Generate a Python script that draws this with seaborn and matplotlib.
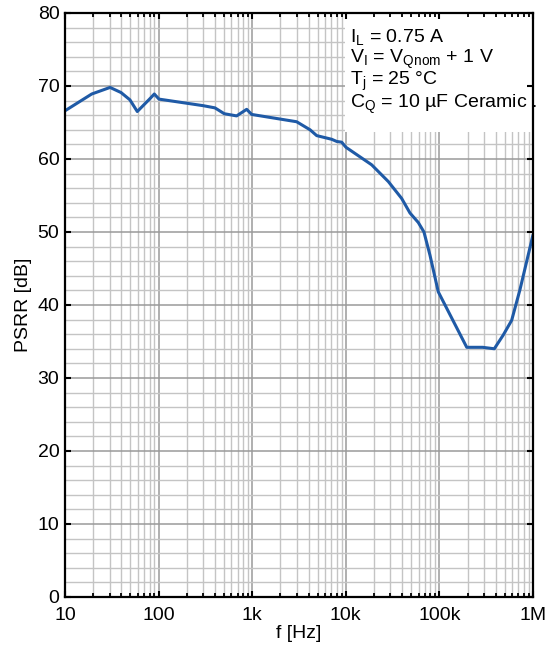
import matplotlib
matplotlib.use("Agg")
import matplotlib.pyplot as plt
from matplotlib.patches import Rectangle
from matplotlib.ticker import LogLocator, MultipleLocator, NullFormatter
import numpy as np
import pandas as pd
import seaborn as sns

sns.set_style("white")
plt.rcParams['font.family'] = ['Liberation Sans', 'DejaVu Sans']
plt.rcParams['mathtext.fontset'] = 'custom'
plt.rcParams['mathtext.rm'] = 'Liberation Sans'
plt.rcParams['text.color'] = 'black'
plt.rcParams['axes.labelcolor'] = 'black'
plt.rcParams['xtick.color'] = 'black'
plt.rcParams['ytick.color'] = 'black'

# PSRR curve
freq = [10, 19.3, 30.3, 39.7, 49.4, 59.2, 80, 90, 101, 300, 400, 503, 682, 873, 988,
        2985, 4150, 4890, 7060, 8000, 9040, 10050, 18900, 28500, 39500, 48500,
        59500, 68400, 79400, 97300, 196000, 290000, 386000, 482000, 592000,
        726000, 1000000]
psrr = [66.6, 68.9, 69.8, 69.1, 68.1, 66.5, 68.2, 68.9, 68.2, 67.3, 67.0, 66.2, 65.9, 66.8, 66.1,
        65.1, 64.0, 63.2, 62.7, 62.4, 62.3, 61.6, 59.2, 56.9, 54.6, 52.6,
        51.3, 50.0, 46.8, 41.8, 34.2, 34.2, 34.0, 35.9, 37.9,
        42.1, 49.6]

xticks = [10, 100, 1e3, 1e4, 1e5, 1e6]
xticklabels = ['10', '100', '1k', '10k', '100k', '1M']
yticks = [0, 10, 20, 30, 40, 50, 60, 70, 80]

conditions = [r'$\mathregular{I_L}$ = 0.75 A',
              r'$\mathregular{V_I}$ = $\mathregular{V_{Qnom}}$ + 1 V',
              r'$\mathregular{T_j}$ = 25 °C',
              r'$\mathregular{C_Q}$ = 10 µF Ceramic .']

df = pd.DataFrame({'f': freq, 'psrr': psrr})

fig = plt.figure(figsize=(5.48, 6.52), dpi=100)
ax = fig.add_axes([0.1186, 0.0844, 0.8540, 0.8957])

sns.lineplot(data=df, x='f', y='psrr', ax=ax, color='#1f5aa6', linewidth=2.2, zorder=3)

ax.set_xscale('log')
ax.set_xlim(10, 1e6)
ax.set_ylim(0, 80)
ax.set_xticks(xticks)
ax.set_xticklabels(xticklabels)
ax.xaxis.set_minor_locator(LogLocator(base=10, subs=np.arange(2, 10)))
ax.xaxis.set_minor_formatter(NullFormatter())
ax.set_yticks(yticks)
ax.yaxis.set_minor_locator(MultipleLocator(2))

ax.set_axisbelow(True)
ax.grid(which='major', color='#9a9a9a', linewidth=1.1)
ax.grid(which='minor', color='#c4c4c4', linewidth=1.0)

ax.tick_params(axis='both', which='major', direction='in', length=4, width=1.5,
               labelsize=14, color='black')
ax.tick_params(axis='x', which='major', pad=7)
ax.tick_params(axis='y', which='major', pad=4)
ax.tick_params(axis='y', which='minor', length=0)
ax.tick_params(axis='x', which='minor', direction='in', length=3, width=1.3)

for s in ax.spines.values():
    s.set_linewidth(1.6)
    s.set_color('black')
    s.set_zorder(5)

ax.set_xlabel('f [Hz]', fontsize=14, labelpad=1)
ax.set_ylabel('PSRR [dB]', fontsize=14, labelpad=4)

# white box behind the conditions
ax.add_patch(Rectangle((0.598, 0.797), 0.402, 0.203, transform=ax.transAxes,
                       facecolor='white', edgecolor='none', zorder=1))
for i, t in enumerate(conditions):
    ax.text(0.61, 0.959 - i * 0.0385, t, transform=ax.transAxes, fontsize=14,
            va='center', ha='left', zorder=4, clip_on=False)

# top and right ticks drawn over the box
top = ax.twiny()
top.set_xscale('log')
top.set_xlim(ax.get_xlim())
top.set_xticks(xticks)
top.xaxis.set_minor_locator(LogLocator(base=10, subs=np.arange(2, 10)))
top.tick_params(axis='x', which='major', direction='in', length=4, width=1.5,
                labeltop=False)
top.tick_params(axis='x', which='minor', direction='in', length=3, width=1.3)
right = ax.twinx()
right.set_ylim(ax.get_ylim())
right.set_yticks(yticks)
right.tick_params(axis='y', which='major', direction='in', length=4, width=1.5,
                  labelright=False)
for a in (top, right):
    for s in a.spines.values():
        s.set_visible(False)

fig.savefig('out.png', dpi=100)
